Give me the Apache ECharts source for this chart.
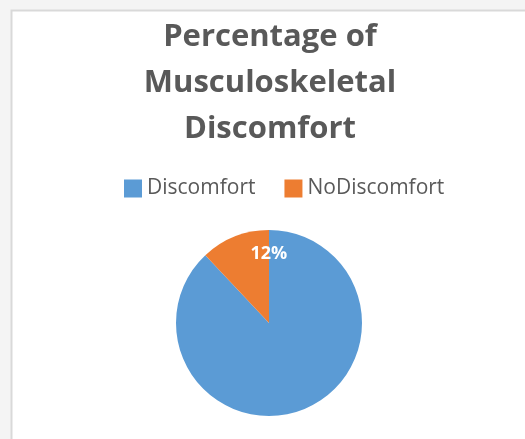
<!DOCTYPE html>
<html>
<head>
<meta charset="utf-8">
<style>
  html, body { margin: 0; padding: 0; background: #f4f4f4; }
  #chart { width: 525px; height: 439px; }
</style>
<script src="https://cdn.jsdelivr.net/npm/echarts@6/dist/echarts.min.js"></script>
</head>
<body>
<div id="chart"></div>
<script>
// Survey share of respondents reporting musculoskeletal discomfort
const categories = ['Discomfort', 'NoDiscomfort'];
const percentages = [88, 12];
const sliceColors = ['#5B9BD5', '#ED7D31'];
const labelledSlices = ['NoDiscomfort'];

const chart = echarts.init(document.getElementById('chart'), null, { renderer: 'canvas' });

const pieData = categories.map((name, i) => ({
  name,
  value: percentages[i],
  itemStyle: { color: sliceColors[i] },
  label: { show: labelledSlices.includes(name) }
}));

chart.setOption({
  backgroundColor: '#f4f4f4',
  animation: false,
  graphic: [
    {
      type: 'rect',
      z: -10,
      shape: { x: 11.5, y: 10.5, width: 530, height: 440 },
      style: { fill: '#ffffff', stroke: '#d9d9d9', lineWidth: 2 }
    }
  ],
  title: {
    text: 'Percentage of\nMusculoskeletal\nDiscomfort',
    left: 265,
    textAlign: 'center',
    top: 9,
    textStyle: {
      fontFamily: 'Open Sans',
      fontWeight: 'bold',
      fontSize: 31,
      lineHeight: 46,
      color: '#595959'
    }
  },
  legend: {
    data: categories,
    top: 173,
    left: 119,
    itemWidth: 18,
    itemHeight: 18,
    itemGap: 29,
    icon: 'rect',
    textStyle: {
      fontFamily: 'Open Sans',
      fontSize: 21,
      color: '#595959'
    }
  },
  series: [
    {
      type: 'pie',
      center: [269, 323],
      radius: 93,
      startAngle: 90,
      clockwise: true,
      silent: true,
      data: pieData,
      label: {
        position: 'inside',
        formatter: '{c}%',
        color: '#ffffff',
        fontFamily: 'Open Sans',
        fontWeight: 'bold',
        fontSize: 18,
        offset: [18, -23]
      },
      labelLine: { show: false },
      itemStyle: { borderWidth: 0 }
    }
  ]
});
</script>
</body>
</html>
